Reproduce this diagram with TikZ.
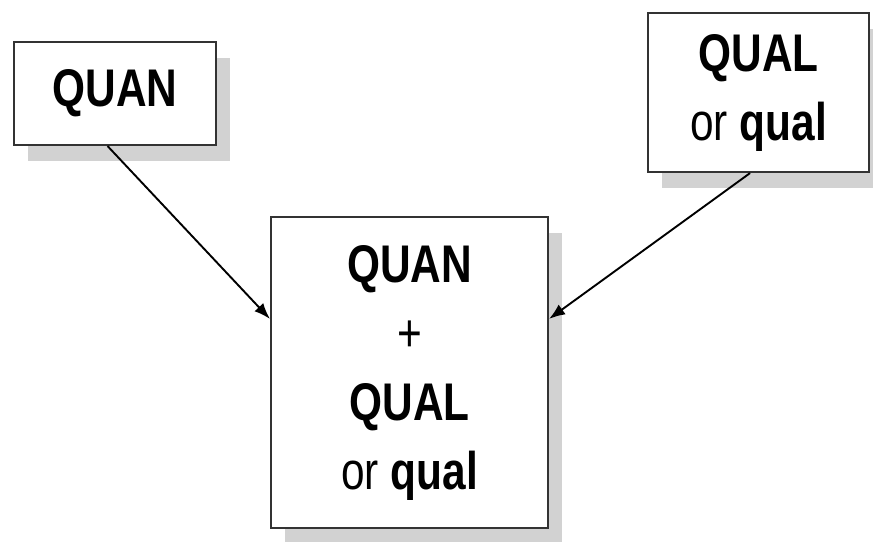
\documentclass[tikz,border=0pt]{standalone}
\usepackage{fontspec}
\setmainfont{Liberation Sans}[FakeStretch=0.8]
\usepackage{tikz}
\usetikzlibrary{arrows.meta,shadows}
\definecolor{ShadowGray}{HTML}{D2D2D2}

\begin{document}
\begin{tikzpicture}[x=1pt, y=-1pt, every node/.style={font=\fontsize{53}{69}\selectfont}]
\tikzstyle{strand}=[draw=black!80, line width=2.2pt, fill=white, align=center, inner sep=0pt,
  drop shadow={shadow xshift=14pt, shadow yshift=-16pt, fill=ShadowGray, opacity=1}]
\tikzstyle{feed}=[line width=1.9pt, -{Latex[length=16pt,width=12pt]}]
\useasboundingbox (0,0) rectangle (873,541);
\node[strand, minimum width=202pt, minimum height=103pt] (quan) at (115,93.5) {\textbf{QUAN}};
\node[strand, minimum width=221pt, minimum height=159pt] (qual) at (758.5,92.5) {\textbf{QUAL}\\or \textbf{qual}};
\node[strand, minimum width=277pt, minimum height=311pt] (mix) at (409.5,372.5) {\textbf{QUAN}\\+\\\textbf{QUAL}\\or \textbf{qual}};
\draw[feed] (quan.262)--(mix.159);
\draw[feed] (qual.264)--(mix.21);
\end{tikzpicture}
\end{document}
